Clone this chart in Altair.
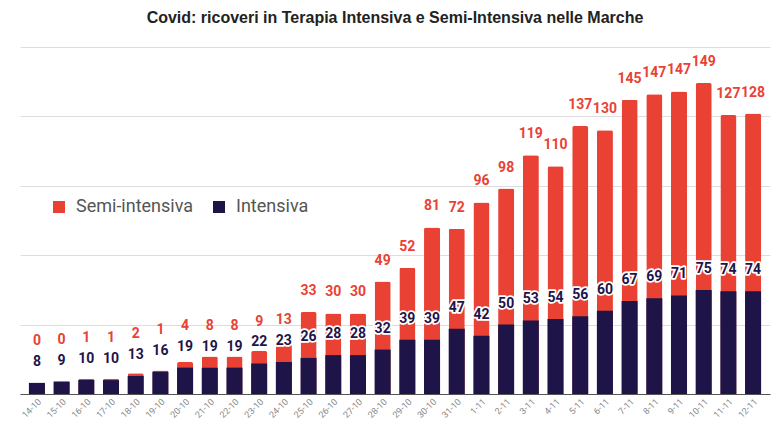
import altair as alt
import pandas as pd

dates = ["14-10", "15-10", "16-10", "17-10", "18-10", "19-10", "20-10", "21-10", "22-10", "23-10",
         "24-10", "25-10", "26-10", "27-10", "28-10", "29-10", "30-10", "31-10", "1-11", "2-11",
         "3-11", "4-11", "5-11", "6-11", "7-11", "8-11", "9-11", "10-11", "11-11", "12-11"]
semi = [0, 0, 1, 1, 2, 1, 4, 8, 8, 9, 13, 33, 30, 30, 49, 52, 81, 72, 96, 98,
        119, 110, 137, 130, 145, 147, 147, 149, 127, 128]
intensiva = [8, 9, 10, 10, 13, 16, 19, 19, 19, 22, 23, 26, 28, 28, 32, 39, 39, 47, 42, 50,
             53, 54, 56, 60, 67, 69, 71, 75, 74, 74]
series = ["Semi-intensiva", "Intensiva"]
colors = ["#e94235", "#1f1448"]

df = pd.DataFrame({"data": dates, "semi": semi, "intensiva": intensiva})

base = alt.Chart(df).transform_calculate(
    totale="datum.semi + datum.intensiva",
    label_y="max(datum.semi + datum.intensiva, datum.intensiva + 15)",
)

x = alt.X(
    "data:N", sort=dates,
    scale=alt.Scale(paddingInner=0.35, paddingOuter=0.36),
    axis=alt.Axis(title=None, labelAngle=-45, labelFontSize=9, labelColor="#888888",
                  labelFont="Roboto", ticks=False, domainColor="#555555", labelPadding=3,
                  grid=False),
)
yscale = alt.Scale(domain=[0, 250], nice=False)
yaxis = alt.Axis(title=None, labels=False, ticks=False, domain=False, grid=True,
                 gridColor="#dddddd", values=[0, 50, 100, 150, 200, 250])
cscale = alt.Scale(domain=series, range=colors)
legend = alt.Legend(title=None, orient="none", legendX=30, legendY=151, direction="horizontal",
                    labelFontSize=18, labelFont="Roboto", labelColor="#555555",
                    symbolType="square", symbolSize=144, symbolStrokeWidth=0,
                    labelOffset=8, columnPadding=16, padding=0)

red_bars = base.transform_calculate(serie="'" + series[0] + "'").mark_bar(
    cornerRadiusTopLeft=2, cornerRadiusTopRight=2).encode(
    x=x,
    y=alt.Y("totale:Q", scale=yscale, axis=yaxis),
    color=alt.Color("serie:N", scale=cscale, legend=legend),
)
navy_bars = base.transform_calculate(serie="'" + series[1] + "'").mark_bar().encode(
    x=x,
    y=alt.Y("intensiva:Q"),
    color=alt.Color("serie:N", scale=cscale, legend=legend),
)
int_halo = base.mark_text(dy=-21, fontSize=14, fontWeight="bold", font="Roboto",
                          color="white", stroke="white", strokeWidth=3.5,
                          strokeJoin="round").encode(
    x=x, y="intensiva:Q", text="intensiva:Q")
int_text = base.mark_text(dy=-21, fontSize=14, fontWeight="bold", font="Roboto",
                          color=colors[1]).encode(
    x=x, y="intensiva:Q", text="intensiva:Q")
semi_text = base.mark_text(dy=-21, fontSize=14, fontWeight="bold", font="Roboto",
                           color=colors[0]).encode(
    x=x, y="label_y:Q", text="semi:Q")

chart = alt.layer(red_bars, navy_bars, int_halo, int_text, semi_text).properties(
    width=750, height=347,
    padding={"left": 12, "top": 2, "right": 2, "bottom": 0},
    title=alt.TitleParams("Covid: ricoveri in Terapia Intensiva e Semi-Intensiva nelle Marche",
                          font="Liberation Sans", fontSize=16, fontWeight="bold",
                          color="#222222", anchor="middle", offset=21),
).configure_view(stroke=None)

chart.save("out.html", embed_options={"renderer": "svg", "actions": False})
